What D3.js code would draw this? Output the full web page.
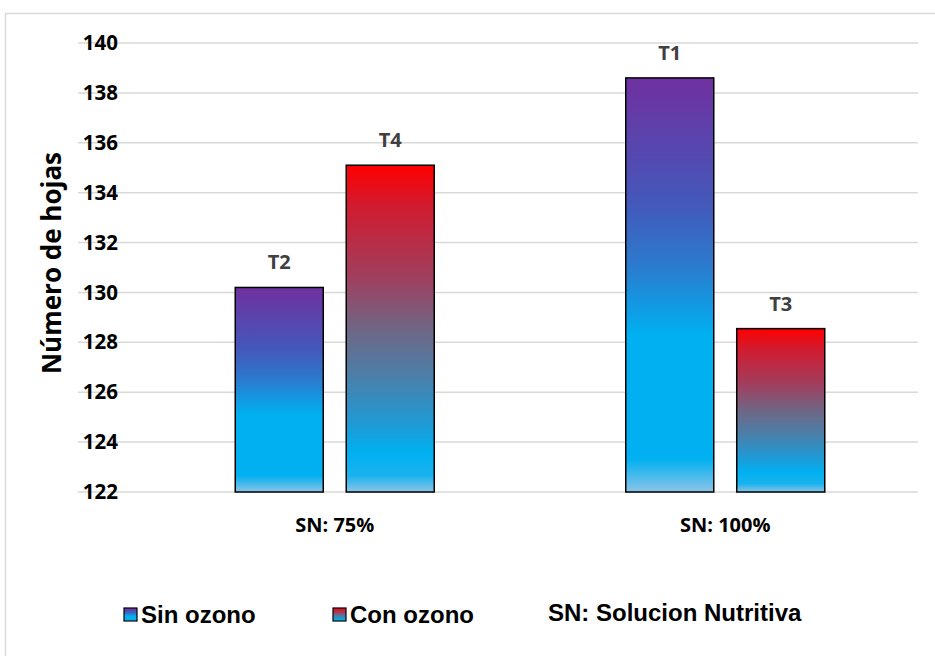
<!DOCTYPE html>
<html><head><meta charset="utf-8">
<script src="https://cdn.jsdelivr.net/npm/d3@7/dist/d3.min.js"></script>
<style>body{margin:0;background:#fff;}svg{display:block;}</style>
</head><body>
<svg id="c" width="935" height="656"></svg>
<script>
const categories = ["SN: 75%", "SN: 100%"];
const seriesNames = ["Sin ozono", "Con ozono"];
const sinOzono = [130.2, 138.6];
const conOzono = [135.1, 128.55];
const sinLabels = ["T2", "T1"];
const conLabels = ["T4", "T3"];
const yTicks = [122, 124, 126, 128, 130, 132, 134, 136, 138, 140];
const yTitle = "Número de hojas";
const note = "SN: Solucion Nutritiva";

const svg = d3.select("#c");
const defs = svg.append("defs");
function grad(id, stops){
  const g = defs.append("linearGradient").attr("id", id).attr("x1",0).attr("y1",0).attr("x2",0).attr("y2",1);
  stops.forEach(s => g.append("stop").attr("offset", s[0]).attr("stop-color", s[1]));
}
grad("gSin", [[0,"#7030A0"],[0.3,"#4458BA"],[0.45,"#2C7ACE"],[0.62,"#00B0F0"],[0.92,"#00B0F0"],[1,"#8CC4E8"]]);
grad("gCon", [[0,"#FF0000"],[0.12,"#D21A2E"],[0.35,"#9E4060"],[0.5,"#706684"],[0.65,"#4A80AA"],[0.8,"#1C9CD8"],[0.88,"#00B0F0"],[0.95,"#1AB2EE"],[1,"#8CC4E8"]]);

const calib = "'Open Sans', Lato, sans-serif";

// outer frame
svg.append("rect").attr("x",5.5).attr("y",13.5).attr("width",960).attr("height",700)
  .attr("fill","none").attr("stroke","#d9d9d9").attr("stroke-width",1.5);

const y = d3.scaleLinear().domain([122,140]).range([492,43]);
const x0 = d3.scaleBand().domain(categories).range([139.5,920.5]);
const x1 = d3.scaleBand().domain(seriesNames).range([0,199]).paddingInner(0.207);

// gridlines
svg.append("g").selectAll("line").data(yTicks).join("line")
  .attr("x1",78).attr("x2",918).attr("y1",d=>y(d)).attr("y2",d=>y(d))
  .attr("stroke","#d9d9d9").attr("stroke-width",1.5);

// y axis labels
const yAxis = d3.axisLeft(y).tickValues(yTicks).tickSize(0).tickPadding(0);
const ya = svg.append("g").attr("transform","translate(118,0)").call(yAxis);
ya.select(".domain").remove();
ya.selectAll("text").attr("font-family",calib).attr("font-weight","bold")
  .attr("font-size","20.5px").attr("fill","#000");

// y title
svg.append("text").attr("transform","translate(61,263) rotate(-90)").attr("text-anchor","middle")
  .attr("font-family",calib).attr("font-weight","bold").attr("font-size","26px")
  .attr("fill","#000").text(yTitle);

// x axis labels
const xAxis = d3.axisBottom(x0).tickSize(0).tickPadding(0);
const xa = svg.append("g").attr("transform","translate(0,532)").call(xAxis);
xa.select(".domain").remove();
xa.selectAll("text").attr("font-family",calib).attr("font-weight","bold")
  .attr("font-size","20px").attr("fill","#000").attr("dy","0").attr("y",0);

// bars
const rows = categories.map((c,i)=>({cat:c, vals:[
  {s:"Sin ozono", v:sinOzono[i], lab:sinLabels[i], fill:"url(#gSin)"},
  {s:"Con ozono", v:conOzono[i], lab:conLabels[i], fill:"url(#gCon)"}]}));
const grp = svg.append("g").selectAll("g").data(rows).join("g")
  .attr("transform", d => `translate(${x0(d.cat)+x0.bandwidth()/2-99.5},0)`);
grp.selectAll("rect").data(d=>d.vals).join("rect")
  .attr("x", d=>x1(d.s)).attr("width", x1.bandwidth())
  .attr("y", d=>y(d.v)).attr("height", d=>y(122)-y(d.v))
  .attr("fill", d=>d.fill).attr("stroke","#000").attr("stroke-width",1.5);
grp.selectAll("text").data(d=>d.vals).join("text")
  .attr("x", d=>x1(d.s)+x1.bandwidth()/2).attr("y", d=>y(d.v)-18)
  .attr("text-anchor","middle").attr("font-family",calib)
  .attr("font-weight","bold").attr("font-size","20px").attr("fill","#404040").text(d=>d.lab);

// legend
const leg = [{name:seriesNames[0], fill:"url(#gSin)", x:124},{name:seriesNames[1], fill:"url(#gCon)", x:333}];
const lg = svg.append("g").selectAll("g").data(leg).join("g").attr("transform", d=>`translate(${d.x},0)`);
lg.append("rect").attr("x",0).attr("y",608).attr("width",13).attr("height",13)
  .attr("fill",d=>d.fill).attr("stroke","#000").attr("stroke-width",1.2);
lg.append("text").attr("x",17).attr("y",623).attr("font-family","'Liberation Sans', Arial, sans-serif")
  .attr("font-weight","bold").attr("font-size","24px").attr("fill","#000").text(d=>d.name);
svg.append("text").attr("x",548).attr("y",621).attr("font-family","'Liberation Sans', Arial, sans-serif")
  .attr("font-weight","bold").attr("font-size","24px").attr("fill","#000").text(note);
</script>
</body></html>
